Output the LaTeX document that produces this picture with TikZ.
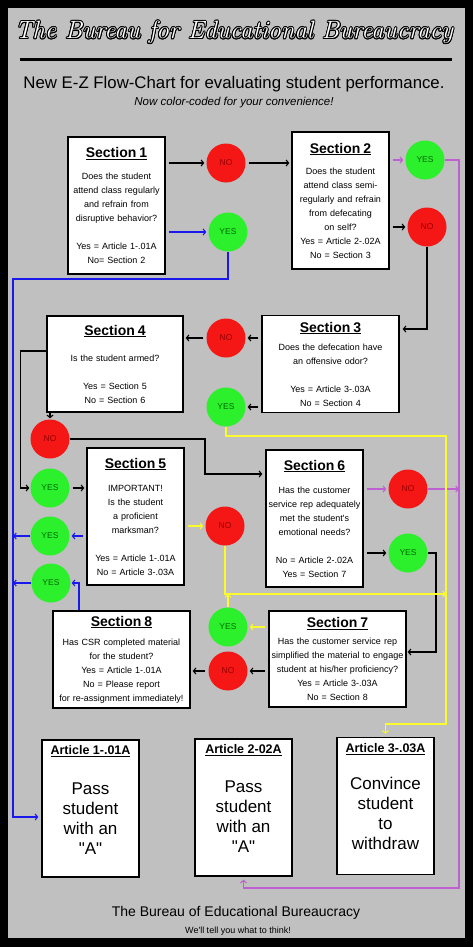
\documentclass[tikz,border=0pt]{standalone}
\usepackage{fontspec}
\setsansfont{Liberation Sans}[Ligatures=TeXOff]
\usepackage{contour}
\usepackage{tikz}
\usetikzlibrary{arrows.meta}
\definecolor{panelgray}{RGB}{192,192,192}
\definecolor{nored}{RGB}{245,22,22}
\definecolor{yesgreen}{RGB}{45,240,45}
\definecolor{notext}{RGB}{150,0,0}
\definecolor{yestext}{RGB}{0,105,0}
\definecolor{linkblue}{RGB}{25,25,235}
\definecolor{linkpurple}{RGB}{190,95,210}
\definecolor{linkyellow}{RGB}{250,250,45}
\newcommand\secthead[1]{{\fontsize{14}{16}\selectfont\bfseries\underline{#1}}}
\newcommand\arthead[1]{{\fontsize{12.5}{14}\selectfont\bfseries\underline{#1}}}
\contourlength{0.9pt}
\tikzset{
  sectblock/.style={
    draw,
    line width=1.4pt,
    fill=white,
    align=center,
    inner sep=0pt,
    text width=97pt,
    minimum height=137pt,
    font=\sffamily\fontsize{9}{14}\selectfont
  },
  wideblock/.style={
    sectblock,
    text width=137pt,
    minimum height=97pt
  },
  artblock/.style={
    draw,
    line width=1.4pt,
    fill=white,
    inner sep=0pt,
    minimum width=97pt,
    minimum height=137pt
  },
  arttext/.style={
    align=center,
    anchor=north,
    font=\sffamily\fontsize{17}{20}\selectfont
  },
  noball/.style={
    circle,
    fill=nored,
    inner sep=0pt,
    minimum size=39pt,
    text=notext,
    font=\sffamily\fontsize{8.5}{10}\selectfont
  },
  yesball/.style={
    noball,
    fill=yesgreen,
    text=yestext
  },
  link/.style={-{Straight Barb[length=2.5pt,width=6pt]}, line width=1.1pt},
  gap/.style={shorten <=3pt, shorten >=2pt}
}
\begin{document}
\begin{tikzpicture}[x=1pt,y=-1pt]
  \useasboundingbox (0,0) rectangle (473,947);
  \fill[black] (0,0) rectangle (473,947);
  \fill[panelgray] (8,8) rectangle (465,938);

  % heading
  \node[font=\rmfamily\itshape\fontsize{25}{28}\selectfont] (title) at (234,33)
    {\contour{black}{\textcolor{white}{The Bureau for Educational Bureaucracy}}};
  \draw[line width=3pt] (20,60) -- (452,60);
  \node[font=\sffamily\fontsize{16.8}{19}\selectfont] (subtitle) at (234,84)
    {New E-Z Flow-Chart for evaluating student performance.};
  \node[font=\sffamily\itshape\fontsize{11.5}{13}\selectfont] (tagline) at (234,103)
    {Now color-coded for your convenience!};

  % sections
  \node[sectblock] (sec1) at (116.5,205.5) {\secthead{Section 1}\\[8pt]Does the student\\attend class regularly\\and refrain from\\disruptive behavior?\\[14pt]Yes = Article 1-.01A\\No= Section 2};
  \node[sectblock] (sec2) at (340.5,200.5) {\secthead{Section 2}\\[7pt]Does the student\\attend class semi-\\regularly and refrain\\from defecating\\on self?\\Yes = Article 2-.02A\\No = Section 3};
  \node[wideblock] (sec3) at (330.5,364) {\secthead{Section 3}\\[4pt]Does the defecation have\\an offensive odor?\\[14pt]Yes = Article 3-.03A\\No = Section 4};
  \node[wideblock, minimum height=96pt, text width=136pt] (sec4) at (115,364) {\secthead{Section 4}\\[12pt]Is the student armed?\\[14pt]Yes = Section 5\\No = Section 6};
  \node[sectblock] (sec5) at (135.5,516.5) {\secthead{Section 5}\\[9pt]IMPORTANT!\\Is the student\\a proficient\\marksman?\\[14pt]Yes = Article 1-.01A\\No = Article 3-.03A};
  \node[sectblock] (sec6) at (314.5,518.5) {\secthead{Section 6}\\[9pt]Has the customer\\service rep adequately\\met the student's\\emotional needs?\\[14pt]No = Article 2-.02A\\Yes = Section 7};
  \node[wideblock, minimum height=96pt] (sec7) at (337.5,659) {\secthead{Section 7}\\[3pt]Has the customer service rep\\simplified the material to engage\\student at his/her proficiency?\\Yes = Article 3-.03A\\No = Section 8};
  \node[wideblock] (sec8) at (121.5,659.5) {\secthead{Section 8}\\[5pt]Has CSR completed material\\for the student?\\Yes = Article 1-.01A\\No = Please report\\for re-assignment immediately!};

  % articles
  \node[artblock] (art1) at (90.5,808.5) {};
  \node[artblock] (art2) at (243.5,807.5) {};
  \node[artblock] (art3) at (385.5,806) {};
  \node[arttext] (art1txt) at ([yshift=-3pt]art1.north) {\arthead{Article 1-.01A}\\[20pt]Pass\\student\\with an\\"A"};
  \node[arttext] (art2txt) at ([yshift=-3pt]art2.north) {\arthead{Article 2-02A}\\[19pt]Pass\\student\\with an\\"A"};
  \node[arttext] (art3txt) at ([yshift=-3pt]art3.north) {\arthead{Article 3-.03A}\\[17pt]Convince\\student\\to\\withdraw};

  % answers
  \node[noball] (no1) at (226,163) {NO};
  \node[yesball] (yes1) at (228,232) {YES};
  \node[yesball] (yes2) at (425,160) {YES};
  \node[noball] (no2) at (427,227) {NO};
  \node[noball] (no3) at (226,338) {NO};
  \node[yesball] (yes3) at (226,407) {YES};
  \node[noball] (no4) at (50,439) {NO};
  \node[yesball] (yes4) at (50,488) {YES};
  \node[yesball] (yes5) at (50,536) {YES};
  \node[yesball] (yes8) at (51,583) {YES};
  \node[noball] (no5) at (225,526) {NO};
  \node[noball] (no6) at (408,489) {NO};
  \node[yesball] (yes6) at (408,553) {YES};
  \node[yesball] (yes7) at (228,627) {YES};
  \node[noball] (no7) at (228,671) {NO};

  % turning points
  \coordinate (bluetop) at (13,279);
  \coordinate (bluebot) at (13,817);
  \coordinate (purplebot) at (459,888);
  \coordinate (yellowtop) at (446,436);
  \coordinate (yellowbot) at (446,724);
  \coordinate (yellowjoin) at (446,594);
  \coordinate (no4turn) at (205,474);
  \coordinate (yes6turn) at (436,652);

  % black links
  \draw[link, gap] (sec1.east |- no1) -- (no1);
  \draw[link, gap] (no1) -- (sec2.west |- no1);
  \draw[link, gap] (sec2.east |- no2) -- (no2);
  \draw[link, shorten >=3pt] (no2) |- ([yshift=35pt]sec3.east);
  \draw[link, gap] (sec3.west |- no3) -- (no3);
  \draw[link, gap] (sec3.west |- yes3) -- (yes3);
  \draw[link, gap] (no3) -- (sec4.east |- no3);
  \draw[link, shorten >=1pt] (sec4.south -| no4) -- (no4);
  \draw[link, shorten >=1pt] ([yshift=13pt]sec4.west) -- ++(-26,0) |- (yes4);
  \draw[link, gap] (yes4) -- (sec5.west |- yes4);
  \draw[link, shorten >=3pt] (no4) -| (no4turn) -- (sec6.west |- no4turn);
  \draw[link, gap] (sec6.east |- yes6) -- (yes6);
  \draw[link, shorten >=1pt] (yes6) -| (yes6turn) -- (sec7.east |- yes6turn);
  \draw[link, gap] (sec7.west |- no7) -- (no7);
  \draw[link, gap] (no7) -- (sec8.east |- no7);

  % blue links
  \draw[link, linkblue, gap] (sec1.east |- yes1) -- (yes1);
  \draw[link, linkblue, shorten >=3pt] (yes1) |- (bluetop) -- (bluebot) -- (art1.west |- bluebot);
  \draw[link, linkblue, gap] (sec5.west |- yes5) -- (yes5);
  \draw[link, linkblue] (yes5) -- (yes5 -| bluetop);
  \draw[link, linkblue] (yes8) -- (yes8 -| bluetop);
  \draw[link, linkblue, shorten >=1pt] ([xshift=-42.5pt]sec8.north) |- (yes8);

  % purple links
  \draw[link, linkpurple, gap] (sec2.east |- yes2) -- (yes2);
  \draw[link, linkpurple, shorten >=3pt] (yes2) -| (purplebot) -| (art2.south);
  \draw[link, linkpurple, gap] (sec6.east |- no6) -- (no6);
  \draw[link, linkpurple] (no6) -- (no6 -| purplebot);

  % yellow links
  \draw[link, linkyellow, shorten >=3pt] (yes3) |- (yellowtop) -- (yellowbot) -| (art3.north);
  \draw[link, linkyellow, gap] (sec5.east |- no5) -- (no5);
  \draw[link, linkyellow] (no5) |- (yellowjoin);
  \draw[link, linkyellow] (yes7) -- (yes7 |- yellowjoin);
  \draw[link, linkyellow, gap] (sec7.west |- yes7) -- (yes7);

  % footer
  \node[font=\sffamily\fontsize{14}{16}\selectfont] (footer) at (236,913) {The Bureau of Educational Bureaucracy};
  \node[font=\sffamily\fontsize{9}{10}\selectfont] (motto) at (238,931) {We'll tell you what to think!};
\end{tikzpicture}
\end{document}
